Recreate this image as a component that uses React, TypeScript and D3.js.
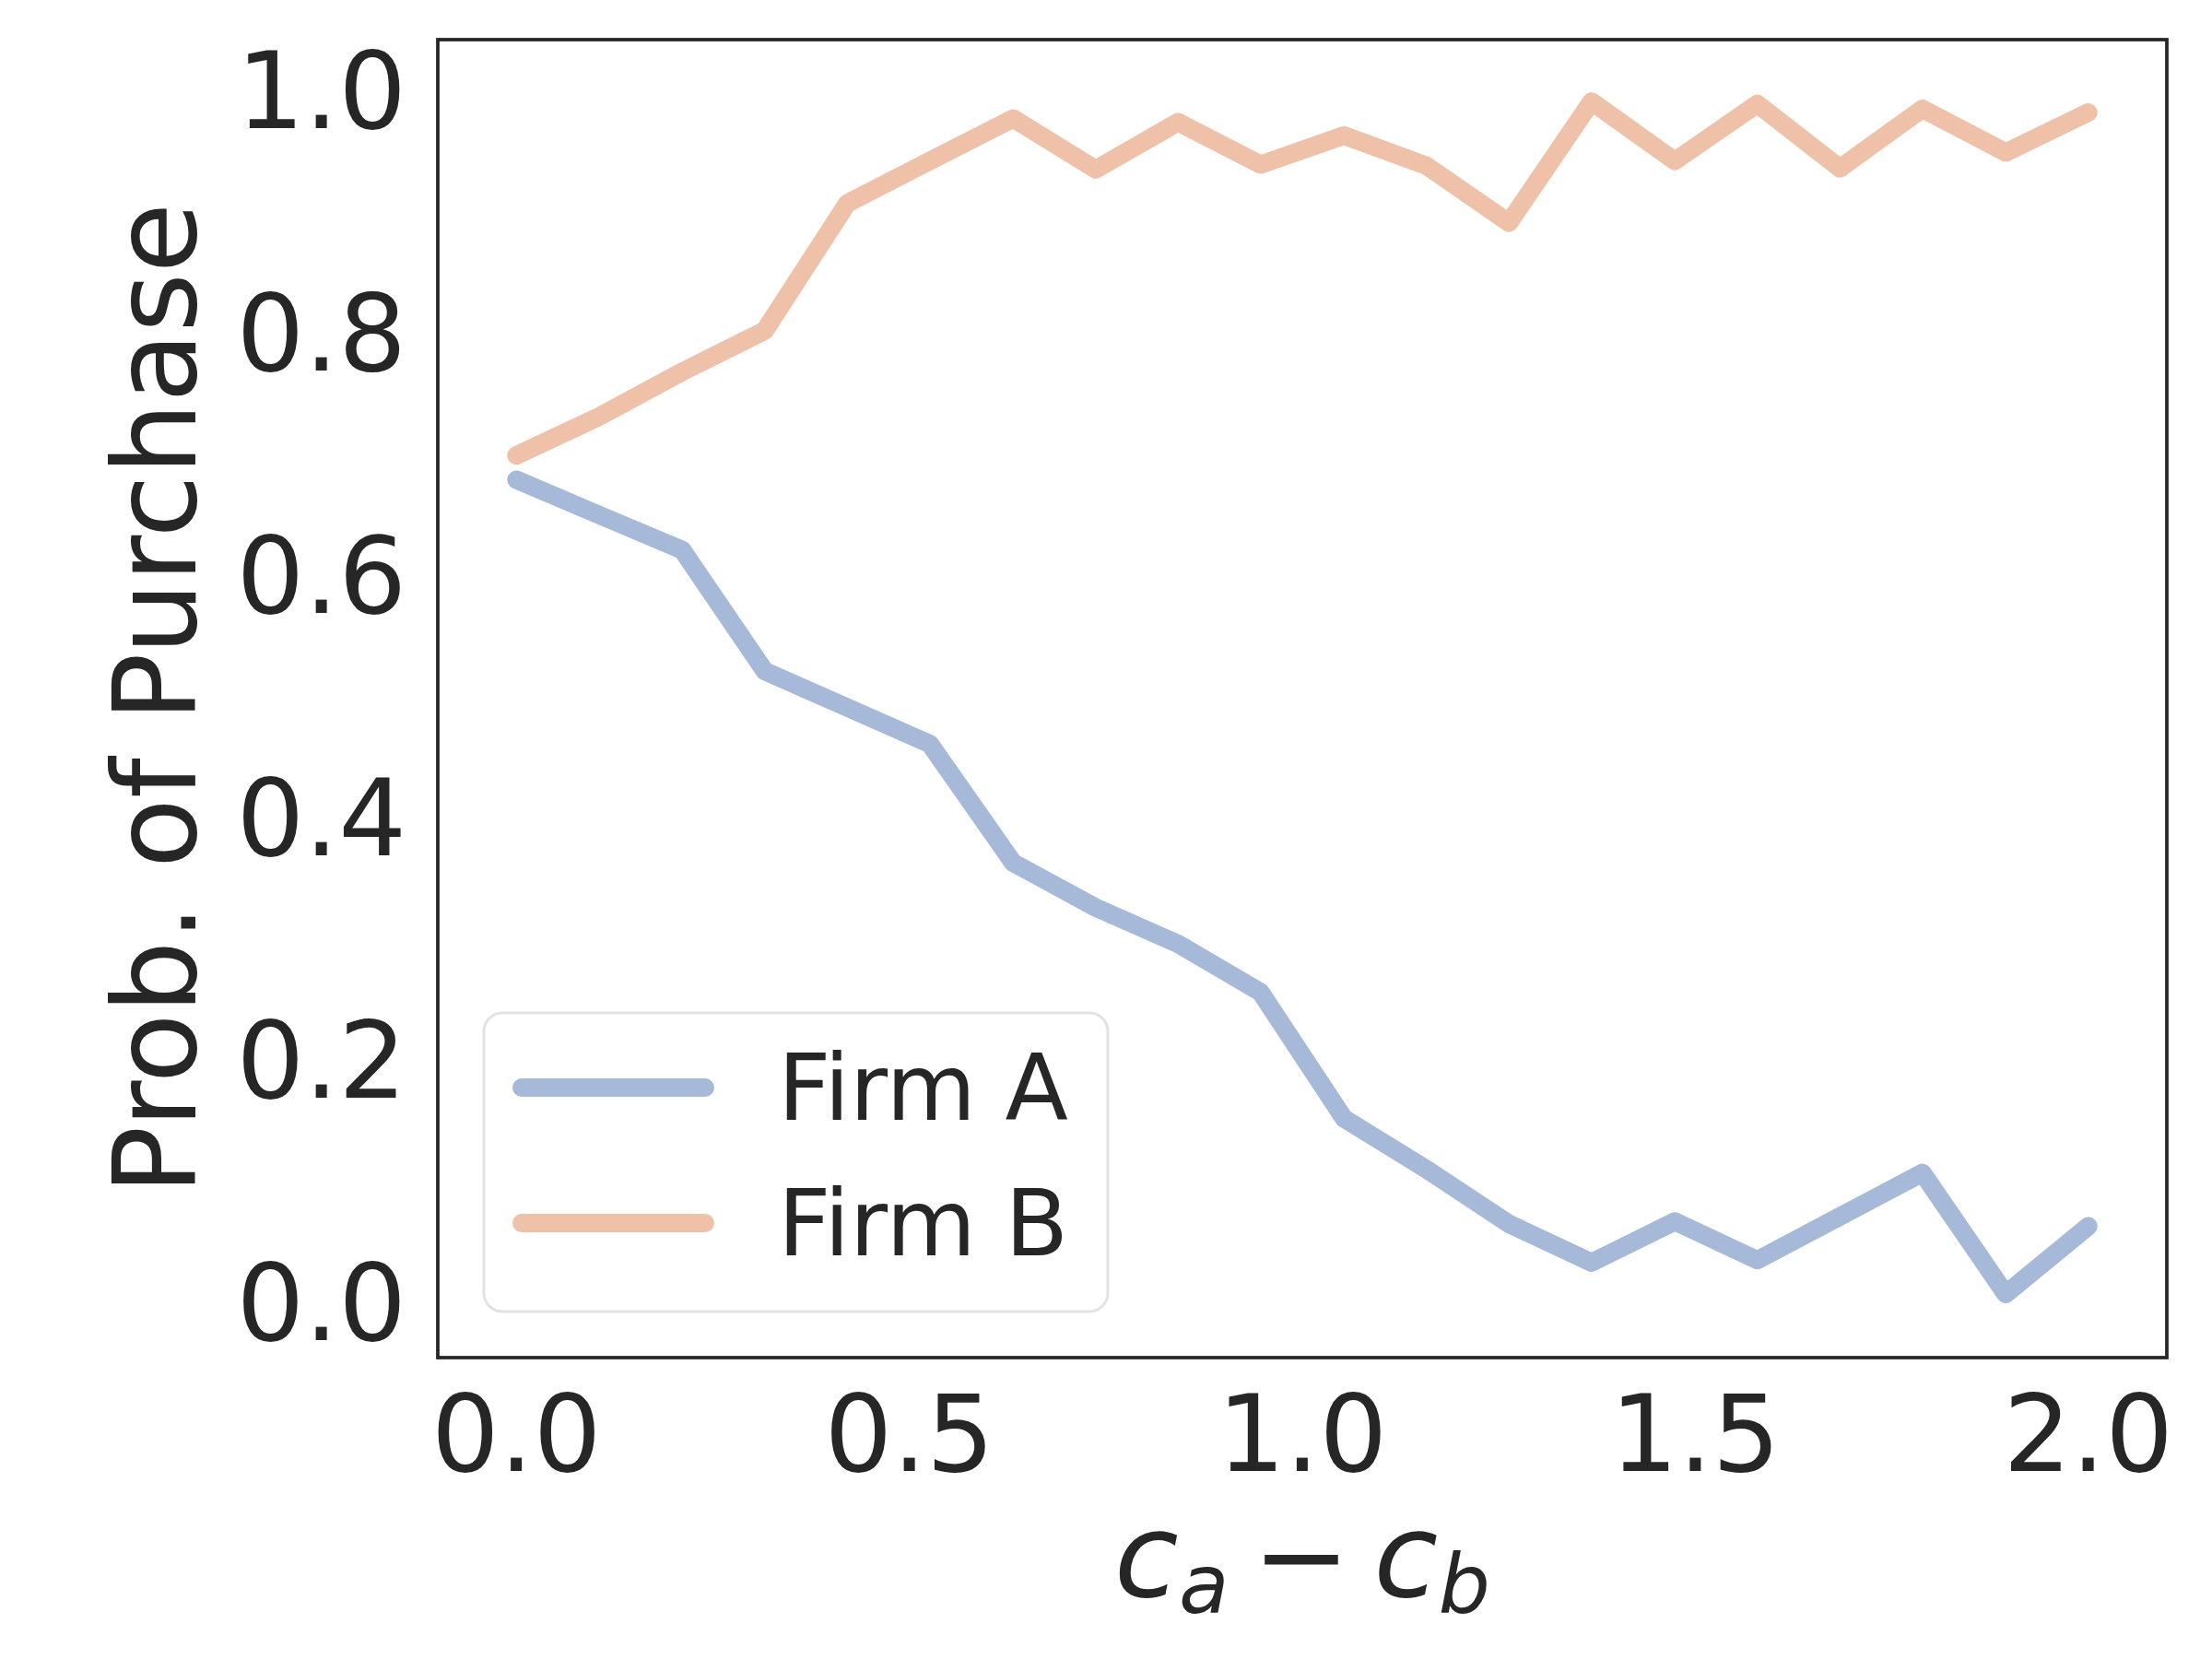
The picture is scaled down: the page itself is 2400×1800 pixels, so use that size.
import React from 'react';
import * as d3 from 'd3';

// cost difference c_a - c_b (20 evenly spaced samples)
const costDiff = [0, 0.105, 0.211, 0.316, 0.421, 0.526, 0.632, 0.737, 0.842, 0.947,
  1.053, 1.158, 1.263, 1.368, 1.474, 1.579, 1.684, 1.789, 1.895, 2.0];

const firmA = [0.678, 0.649, 0.620, 0.520, 0.490, 0.460, 0.362, 0.325, 0.295, 0.255,
  0.151, 0.109, 0.064, 0.032, 0.066, 0.034, 0.070, 0.106, 0.006, 0.062];

const firmB = [0.698, 0.730, 0.767, 0.801, 0.906, 0.941, 0.976, 0.934, 0.973, 0.938,
  0.962, 0.937, 0.890, 0.990, 0.941, 0.988, 0.935, 0.984, 0.948, 0.981];

const seriesNames = ['Firm A', 'Firm B'];
const xTicks = [0, 0.5, 1.0, 1.5, 2.0];
const yTicks = [0, 0.2, 0.4, 0.6, 0.8, 1.0];

const App: React.FC = () => {
  const width = 2400;
  const height = 1800;
  const left = 475;
  const right = 2351;
  const top = 43;
  const bottom = 1473;
  const ink = '#262626';
  const font = '"DejaVu Sans", sans-serif';
  const colors = ['#a6b9d8', '#eec1a8'];

  const x = d3.scaleLinear().domain([-0.1, 2.1]).range([left, right]);
  const y = d3.scaleLinear().domain([-0.0464, 1.0411]).range([bottom, top]);

  const line = d3.line<number>()
    .x((_, i) => x(costDiff[i]))
    .y(d => y(d));

  const series = [firmA, firmB];
  const midX = (left + right) / 2;
  const midY = (top + bottom) / 2;

  return (
    <div style={{ position: 'absolute', left: 0, top: 0 }}>
      <svg width={width} height={height} viewBox={`0 0 ${width} ${height}`} style={{ display: 'block', background: '#fff' }}>
        {/* data lines */}
        {series.map((s, k) => (
          <path key={k} d={line(s) || ''} fill="none" stroke={colors[k]}
            strokeWidth={20} strokeLinejoin="round" strokeLinecap="round" />
        ))}

        {/* frame */}
        <rect x={left} y={top} width={right - left} height={bottom - top}
          fill="none" stroke={ink} strokeWidth={3.75} />

        {/* x tick labels */}
        {xTicks.map(t => (
          <text key={t} x={x(t)} y={1596} textAnchor="middle" fontFamily={font}
            fontSize={116} fill={ink}>{t.toFixed(1)}</text>
        ))}

        {/* y tick labels */}
        {yTicks.map(t => (
          <text key={t} x={441} y={y(t) + 42} textAnchor="end" fontFamily={font}
            fontSize={116} fill={ink}>{t.toFixed(1)}</text>
        ))}

        {/* y label */}
        <text transform={`translate(212, ${midY}) rotate(-90)`} textAnchor="middle"
          fontFamily={font} fontSize={124} fill={ink}>Prob. of Purchase</text>

        {/* x label: c_a − c_b */}
        <text x={midX} y={1732} textAnchor="middle" fontFamily={font} fontSize={127} fill={ink}>
          <tspan fontStyle="italic">c</tspan>
          <tspan fontStyle="italic" fontSize={89} dy={18}>a</tspan>
          <tspan dy={-18}>{'\u2009\u2212\u2009'}</tspan>
          <tspan fontStyle="italic">c</tspan>
          <tspan fontStyle="italic" fontSize={89} dy={18}>b</tspan>
        </text>

        {/* legend */}
        <g>
          <rect x={525} y={1099} width={677} height={324} rx={20} ry={20}
            fill="#fff" fillOpacity={0.8} stroke="#e3e3e3" strokeWidth={3} />
          {seriesNames.map((name, k) => (
            <g key={name}>
              <line x1={566} x2={765} y1={1180 + k * 147} y2={1180 + k * 147}
                stroke={colors[k]} strokeWidth={20} strokeLinecap="round" />
              <text x={844} y={1215 + k * 147} fontFamily={font} fontSize={100} fill={ink}>{name}</text>
            </g>
          ))}
        </g>
      </svg>
    </div>
  );
};

export default App;
